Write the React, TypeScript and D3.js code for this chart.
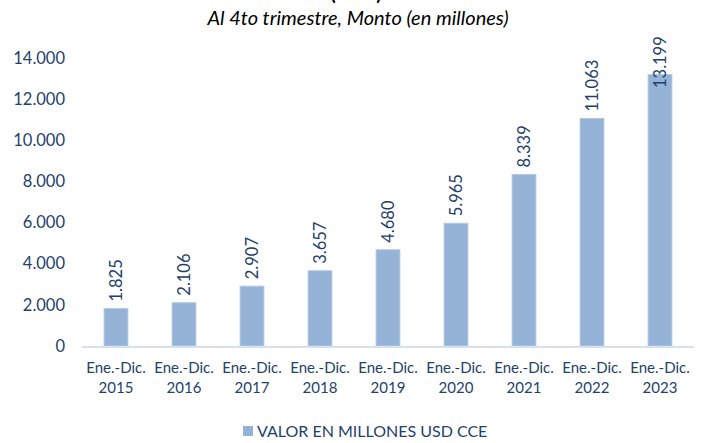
import React from 'react';
import * as d3 from 'd3';

const categories = ['2015', '2016', '2017', '2018', '2019', '2020', '2021', '2022', '2023'];
const values = [1825, 2106, 2907, 3657, 4680, 5965, 8339, 11063, 13199];
const yTicks = [0, 2000, 4000, 6000, 8000, 10000, 12000, 14000];
const periodLabel = 'Ene.-Dic.';
const seriesName = 'VALOR EN MILLONES USD CCE';
const subtitle = 'Al 4to trimestre, Monto (en millones)';

const width = 705;
const height = 443;
const font = "Lato, 'Open Sans', sans-serif";
const textColor = '#243f6b';
const barColor = '#95b3d7';

const locale = d3.formatLocale({ decimal: ',', thousands: '.', grouping: [3], currency: ['', ''] });
const fmt = locale.format(',');

const App = () => {
  // scales
  const x = d3.scaleBand<string>().domain(categories).range([82, 694]).paddingInner(0.65).paddingOuter(0.325);
  const y = d3.scaleLinear().domain([0, 14000]).range([346, 58]);

  return (
    <svg width={width} height={height} style={{ position: 'absolute', left: 0, top: 0 }} fontFamily={font}>
      <rect width={width} height={height} fill="#fff" />
      {/* title, cut off at the top edge as in the source */}
      <text x={356} y={0} textAnchor="middle" fontSize={20} fontWeight="bold" fill="#000">(USD)</text>
      <text x={358} y={25} textAnchor="middle" fontSize={20} fontStyle="italic" fill="#000">{subtitle}</text>

      {/* y axis labels */}
      {yTicks.map((t) => (
        <text key={t} x={65} y={y(t)} dy="0.35em" textAnchor="end" fontSize={16.5} fill={textColor}>
          {fmt(t)}
        </text>
      ))}

      {/* bars */}
      {values.map((v, i) => {
        const cx = x(categories[i])! + x.bandwidth() / 2;
        const top = y(v);
        const labelY = Math.max(top - 7, 88);
        return (
          <g key={categories[i]}>
            <rect x={x(categories[i])} y={top} width={x.bandwidth()} height={y(0) - top}
              fill={barColor} stroke="#b4c8e2" strokeWidth={1} />
            <text transform={`translate(${cx},${labelY}) rotate(-90)`} dy="0.35em" fontSize={16.5} fill={textColor}>
              {fmt(v)}
            </text>
          </g>
        );
      })}

      {/* x axis */}
      <line x1={82} x2={694} y1={y(0) + 1} y2={y(0) + 1} stroke="#d6e0ef" strokeWidth={2} />
      {categories.map((c) => {
        const cx = x(c)! + x.bandwidth() / 2;
        return (
          <text key={c} x={cx} textAnchor="middle" fontSize={15} fill={textColor}>
            <tspan x={cx} y={373}>{periodLabel}</tspan>
            <tspan x={cx} y={393}>{c}</tspan>
          </text>
        );
      })}

      {/* legend */}
      <rect x={243} y={426} width={10} height={10} fill={barColor} />
      <text x={257} y={437} fontSize={16} fill={textColor}>{seriesName}</text>
    </svg>
  );
};

export default App;
